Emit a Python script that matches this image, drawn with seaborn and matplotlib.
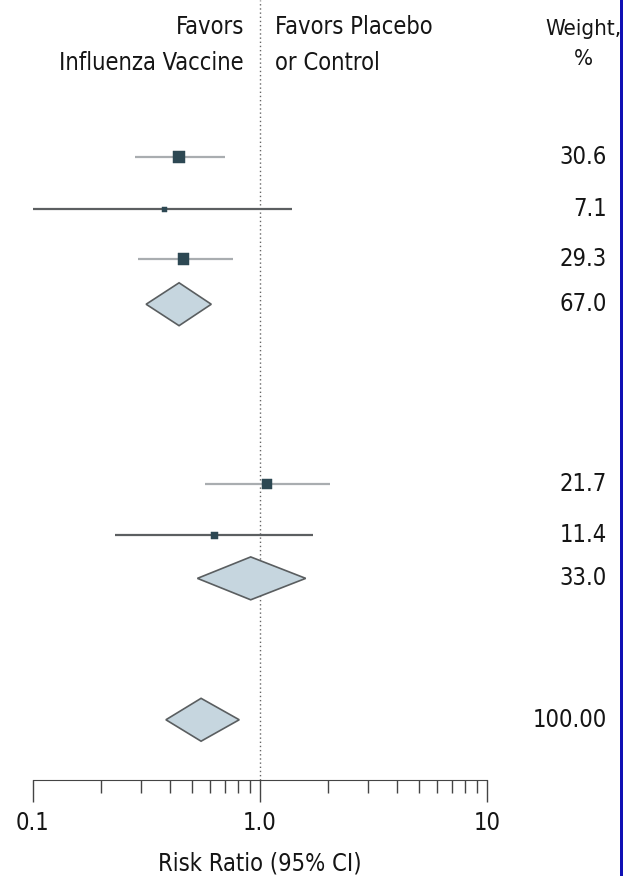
import numpy as np
import pandas as pd
import matplotlib
matplotlib.use("Agg")
import matplotlib.pyplot as plt
from matplotlib.patches import Polygon, Rectangle
from matplotlib.transforms import blended_transform_factory
import seaborn as sns

# study rows (risk ratio, 95% CI, weight %)
study_rr = [0.44, 0.38, 0.46, 1.07, 0.63]
study_lo = [0.28, 0.10, 0.29, 0.57, 0.23]
study_hi = [0.70, 1.38, 0.76, 2.03, 1.71]
study_weight = [30.6, 7.1, 29.3, 21.7, 11.4]
study_row = [0, 1.02, 2.0, 6.41, 7.41]

# pooled estimates (diamonds)
pool_rr = [0.44, 0.91, 0.55]
pool_lo = [0.315, 0.53, 0.385]
pool_hi = [0.61, 1.59, 0.81]
pool_weight = ["67.0", "33.0", "100.00"]
pool_row = [2.88, 8.25, 11.02]

xticks = [0.1, 1.0, 10]
xtick_labels = ["0.1", "1.0", "10"]

sns.set_style("white")
plt.rcParams['font.family'] = ['DejaVu Sans']
plt.rcParams['font.stretch'] = 'condensed'
plt.rcParams['text.color'] = '#151515'
plt.rcParams['xtick.color'] = '#151515'
plt.rcParams['axes.labelcolor'] = '#151515'

fig = plt.figure(figsize=(6.23, 8.76), dpi=100)
ax = fig.add_axes([33 / 623, 96 / 876, 454 / 623, 780 / 876])

studies = pd.DataFrame({"rr": study_rr, "lo": study_lo, "hi": study_hi,
                        "w": study_weight, "row": study_row})

# CI lines: heavy-weight studies lighter grey
line_cols = ["#a9adb0" if w > 20 else "#5c5f61" for w in study_weight]
ax.hlines(studies["row"], studies["lo"], studies["hi"], colors=line_cols, lw=1.6, zorder=2)

sns.scatterplot(data=studies, x="rr", y="row", size="w", sizes=(12, 75),
                size_norm=(7.1, 30.6), marker="s", color="#2d4853",
                edgecolor="#2d4853", legend=False, ax=ax, zorder=3)

half_h = 0.42
for rr, lo, hi, r in zip(pool_rr, pool_lo, pool_hi, pool_row):
    d = Polygon([(lo, r), (rr, r - half_h), (hi, r), (rr, r + half_h)], closed=True,
                facecolor="#c6d6df", edgecolor="#5a5e60", lw=1.2, zorder=3)
    ax.add_patch(d)

ax.axvline(1.0, color="#666666", lw=1, ls=(0, (1, 2)), zorder=1)

ax.set_xscale("log")
ax.set_xlim(0.1, 10)
ax.set_ylim(12.2, -3.08)
ax.set_xticks(xticks)
ax.set_xticklabels(xtick_labels, fontsize=17)
ax.set_yticks([])
ax.set_ylabel("")
ax.tick_params(axis="x", which="both", bottom=True)
ax.tick_params(axis="x", which="major", direction="out", length=16, width=1, color="#444444", pad=6)
ax.tick_params(axis="x", which="minor", direction="out", length=9, width=1, color="#444444")
ax.set_xlabel("Risk Ratio (95% CI)", fontsize=17, labelpad=12)
for s in ["top", "right", "left"]:
    ax.spines[s].set_visible(False)
ax.spines["bottom"].set_color("#444444")

# header text
ax.text(0.85, -2.78, "Favors\nInfluenza Vaccine", ha="right", va="top", fontsize=17,
        linespacing=1.6)
ax.text(1.16, -2.78, "Favors Placebo\nor Control", ha="left", va="top", fontsize=17,
        linespacing=1.6)
fig.text(583 / 623, 1 - 19 / 876, "Weight,\n%", ha="center", va="top", fontsize=16, linespacing=1.65)

# weight column
wtrans = blended_transform_factory(fig.transFigure, ax.transData)
for w, r in zip(study_weight, study_row):
    ax.text(607 / 623, r, f"{w:.1f}", ha="right", va="center", fontsize=17, transform=wtrans)
for w, r in zip(pool_weight, pool_row):
    ax.text(607 / 623, r, w, ha="right", va="center", fontsize=17, transform=wtrans)

fig.patches.append(Rectangle((620 / 623, 0), 3 / 623, 1, transform=fig.transFigure,
                             facecolor="#1010b4", edgecolor="none"))

fig.savefig("out.png", dpi=100)
